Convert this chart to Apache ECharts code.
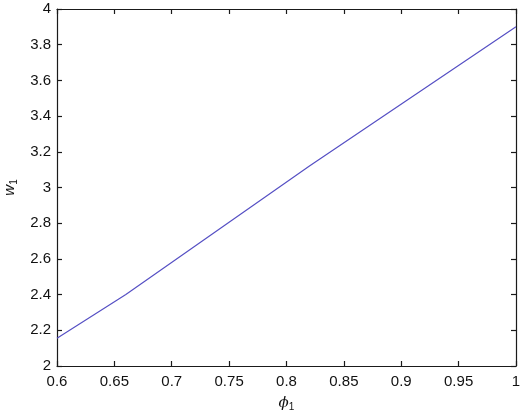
<!DOCTYPE html>
<html>
<head>
<meta charset="utf-8">
<script src="https://cdn.jsdelivr.net/npm/echarts@6/dist/echarts.min.js"></script>
<style>
html,body{margin:0;padding:0;background:#fff;}
#c{width:520px;height:419px;}
</style>
</head>
<body>
<div id="c"></div>
<script>
const phiValues = [0.6, 0.66, 0.82, 1.0];
const wValues = [2.155, 2.40, 3.12, 3.90];
const xTicks = {min: 0.6, max: 1.0, step: 0.05};
const yTicks = {min: 2, max: 4, step: 0.2};

const chart = echarts.init(document.getElementById('c'), null, {renderer: 'canvas'});
const fontFam = '"Liberation Sans", Arial, Helvetica, sans-serif';
const axisCommon = {
  axisLine: {show: true, onZero: false, lineStyle: {color: '#1a1a1a', width: 1.2}},
  axisTick: {show: true, inside: true, length: 5, lineStyle: {color: '#1a1a1a', width: 1.2}},
  splitLine: {show: false}
};
const fmt = v => String(+(+v).toFixed(2));
const data = phiValues.map((x, i) => [x, wValues[i]]);

chart.setOption({
  animation: false,
  backgroundColor: '#fff',
  grid: {left: 57, right: 4, top: 9, bottom: 53, containLabel: false, outerBoundsMode: 'none'},
  xAxis: [
    Object.assign({
      type: 'value', position: 'bottom', min: xTicks.min, max: xTicks.max, interval: xTicks.step,
      axisLabel: {color: '#111', fontSize: 15, fontFamily: fontFam, margin: 8, formatter: fmt},
      name: '{i|ϕ}{s|1}', nameLocation: 'middle', nameGap: 28,
      nameTextStyle: {rich: {
        i: {fontSize: 15, fontStyle: 'italic', fontFamily: '"DejaVu Serif", serif', color: '#111'},
        s: {fontSize: 10, fontFamily: fontFam, color: '#111', verticalAlign: 'bottom', padding: [8, 0, 0, 0]}
      }}
    }, axisCommon),
    Object.assign({
      type: 'value', position: 'top', min: xTicks.min, max: xTicks.max, interval: xTicks.step,
      axisLabel: {show: false}
    }, axisCommon)
  ],
  yAxis: [
    Object.assign({
      type: 'value', position: 'left', min: yTicks.min, max: yTicks.max, interval: yTicks.step,
      axisLabel: {color: '#111', fontSize: 15, fontFamily: fontFam, margin: 6, formatter: fmt},
      name: '{i|w}{s|1}', nameLocation: 'middle', nameGap: 36, nameRotate: 90,
      nameTextStyle: {rich: {
        i: {fontSize: 15, fontStyle: 'italic', fontFamily: fontFam, color: '#111'},
        s: {fontSize: 10, fontFamily: fontFam, color: '#111', verticalAlign: 'bottom', padding: [8, 0, 0, 0]}
      }}
    }, axisCommon),
    Object.assign({
      type: 'value', position: 'right', min: yTicks.min, max: yTicks.max, interval: yTicks.step,
      axisLabel: {show: false}
    }, axisCommon)
  ],
  series: [{
    type: 'line',
    data: data,
    xAxisIndex: 0, yAxisIndex: 0,
    showSymbol: false,
    symbol: 'none',
    lineStyle: {color: '#5650c4', width: 1.2},
    silent: true
  }]
});
</script>
</body>
</html>
